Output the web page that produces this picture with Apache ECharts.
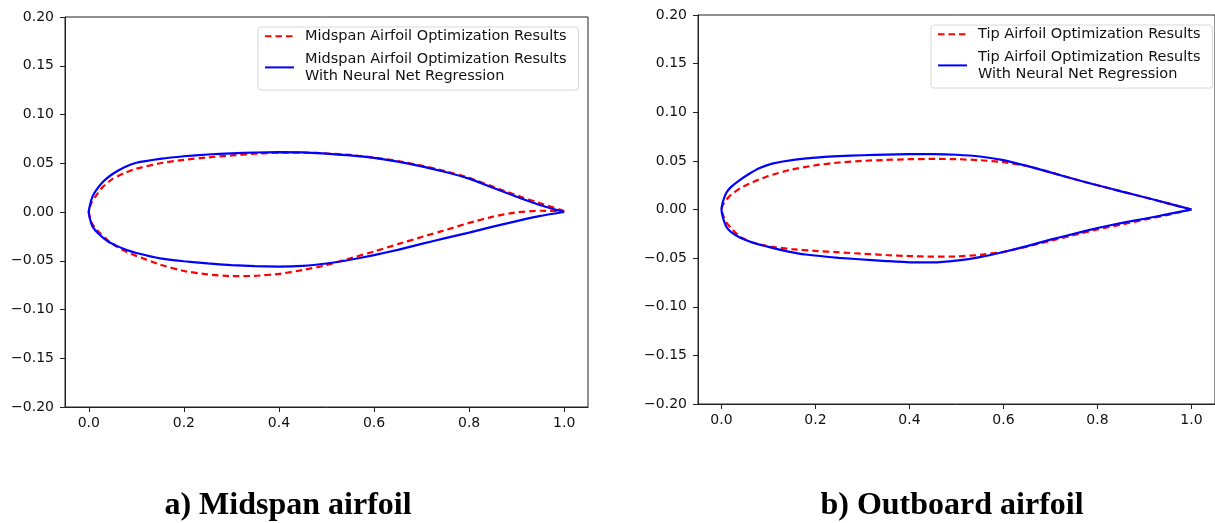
<!DOCTYPE html>
<html>
<head>
<meta charset="utf-8">
<script src="https://cdn.jsdelivr.net/npm/echarts@6/dist/echarts.min.js"></script>
<style>html,body{margin:0;padding:0;background:#fff}#c{width:1215px;height:523px}</style>
</head>
<body>
<div id="c"></div>
<script>
// ---- data (x/c, y/c) ----
const xTicks = [0, 0.2, 0.4, 0.6, 0.8, 1.0];
const names = {
  midOpt: 'Midspan Airfoil Optimization Results',
  midNN: 'Midspan Airfoil Optimization Results\nWith Neural Net Regression',
  tipOpt: 'Tip Airfoil Optimization Results',
  tipNN: 'Tip Airfoil Optimization Results\nWith Neural Net Regression'
};
const captions = ['a) Midspan airfoil', 'b) Outboard airfoil'];

const midOptUpper = [[0,0],[0.005,0.009],[0.01,0.013],[0.02,0.020],[0.03,0.026],[0.05,0.034],[0.075,0.040],[0.1,0.0445],[0.15,0.050],[0.2,0.0535],[0.25,0.056],[0.3,0.058],[0.35,0.0598],[0.4,0.0608],[0.45,0.061],[0.5,0.060],[0.55,0.0585],[0.6,0.0558],[0.65,0.0522],[0.7,0.0475],[0.75,0.0418],[0.8,0.035],[0.85,0.026],[0.9,0.017],[0.95,0.0088],[1.0,0.001]];
const midOptLower = [[0,0],[0.005,-0.010],[0.01,-0.014],[0.02,-0.020],[0.04,-0.029],[0.06,-0.036],[0.08,-0.041],[0.1,-0.045],[0.15,-0.054],[0.2,-0.0605],[0.25,-0.064],[0.3,-0.0658],[0.35,-0.0655],[0.4,-0.0635],[0.45,-0.0595],[0.5,-0.0545],[0.55,-0.0475],[0.6,-0.0405],[0.65,-0.033],[0.7,-0.0257],[0.75,-0.0185],[0.8,-0.0112],[0.85,-0.0048],[0.9,-0.0003],[0.95,0.0013],[1.0,0.001]];
const midNNUpper = [[0,0],[0.003,0.008],[0.008,0.016],[0.015,0.022],[0.03,0.031],[0.05,0.039],[0.075,0.046],[0.1,0.0505],[0.15,0.0545],[0.2,0.0572],[0.25,0.059],[0.3,0.0602],[0.35,0.061],[0.4,0.0614],[0.45,0.0612],[0.5,0.0598],[0.55,0.058],[0.6,0.0555],[0.65,0.0517],[0.7,0.0468],[0.75,0.041],[0.8,0.0342],[0.85,0.0248],[0.9,0.0157],[0.95,0.007],[1.0,0.0]];
const midNNLower = [[0,0],[0.003,-0.008],[0.008,-0.015],[0.02,-0.022],[0.04,-0.030],[0.06,-0.035],[0.08,-0.039],[0.1,-0.042],[0.15,-0.0475],[0.2,-0.0505],[0.25,-0.0527],[0.3,-0.0545],[0.35,-0.0555],[0.4,-0.056],[0.45,-0.0553],[0.5,-0.0528],[0.55,-0.049],[0.6,-0.0443],[0.65,-0.0388],[0.7,-0.0327],[0.75,-0.0268],[0.8,-0.0211],[0.85,-0.015],[0.9,-0.0093],[0.95,-0.004],[1.0,0]];

const tipOptUpper = [[0,0],[0.003,0.005],[0.01,0.0098],[0.02,0.015],[0.04,0.022],[0.073,0.0295],[0.1,0.0345],[0.144,0.0405],[0.2,0.0455],[0.25,0.0483],[0.3,0.050],[0.35,0.051],[0.4,0.0517],[0.45,0.052],[0.5,0.0518],[0.55,0.0507],[0.6,0.0487],[0.65,0.0447],[0.7,0.0382],[0.75,0.0313],[0.8,0.0249],[0.85,0.0187],[0.9,0.0126],[0.95,0.0063],[1.0,0]];
const tipOptLower = [[0,0],[0.005,-0.008],[0.01,-0.013],[0.02,-0.019],[0.038,-0.0275],[0.06,-0.033],[0.08,-0.036],[0.108,-0.0385],[0.15,-0.0408],[0.2,-0.0426],[0.25,-0.044],[0.3,-0.0455],[0.35,-0.0468],[0.4,-0.0479],[0.45,-0.0485],[0.5,-0.0483],[0.55,-0.0467],[0.6,-0.0435],[0.65,-0.0382],[0.7,-0.0322],[0.75,-0.0262],[0.8,-0.0205],[0.85,-0.0155],[0.9,-0.0105],[0.95,-0.0055],[1.0,0]];
const tipNNUpper = [[0,0],[0.003,0.008],[0.01,0.017],[0.02,0.023],[0.038,0.030],[0.06,0.037],[0.08,0.0425],[0.108,0.0472],[0.15,0.0508],[0.214,0.0538],[0.25,0.0548],[0.3,0.0558],[0.35,0.0565],[0.4,0.0569],[0.45,0.0569],[0.5,0.0563],[0.55,0.0545],[0.6,0.0508],[0.65,0.0448],[0.7,0.0382],[0.75,0.0313],[0.8,0.0249],[0.85,0.0187],[0.9,0.0126],[0.95,0.0063],[1.0,0]];
const tipNNLower = [[0,0],[0.003,-0.008],[0.01,-0.0175],[0.02,-0.023],[0.04,-0.029],[0.073,-0.035],[0.1,-0.0385],[0.14,-0.043],[0.179,-0.0463],[0.25,-0.0497],[0.32,-0.052],[0.35,-0.053],[0.4,-0.0543],[0.45,-0.0543],[0.5,-0.0525],[0.55,-0.049],[0.6,-0.0437],[0.65,-0.0376],[0.7,-0.031],[0.75,-0.025],[0.8,-0.019],[0.85,-0.014],[0.9,-0.0095],[0.95,-0.0048],[1.0,0]];

// ---- build ----
function loop(upper, lower) { return upper.slice().reverse().concat(lower.slice(1)); }
const FONT = 'DejaVu Sans';
const fmtY = v => (v < -1e-9 ? '\u2212' : '') + Math.abs(v).toFixed(2);

function xAx(i) {
  return {
    type: 'value', gridIndex: i, min: -0.05, max: 1.05,
    axisLine: { show: true, onZero: false, lineStyle: { color: '#222', width: 1 } },
    axisTick: { show: true, inside: false, length: 5, lineStyle: { color: '#222' }, customValues: xTicks },
    axisLabel: { color: '#111', fontFamily: FONT, fontSize: 14, margin: 9, customValues: xTicks, formatter: v => v.toFixed(1) },
    splitLine: { show: false }
  };
}
function yAx(i) {
  return {
    type: 'value', gridIndex: i, min: -0.2, max: 0.2, interval: 0.05,
    axisLine: { show: true, onZero: false, lineStyle: { color: '#222', width: 1 } },
    axisTick: { show: true, inside: false, length: 5, lineStyle: { color: '#222' } },
    axisLabel: { color: '#111', fontFamily: FONT, fontSize: 14, margin: 11, formatter: fmtY },
    splitLine: { show: false }
  };
}
function ser(name, data, i, color, dashed) {
  return {
    type: 'line', name, data, xAxisIndex: i, yAxisIndex: i,
    showSymbol: false, symbol: 'none', smooth: 0.15, silent: true,
    lineStyle: { color, width: 2.2, type: dashed ? [6.5, 4] : 'solid' },
    itemStyle: { color }
  };
}
function leg(data, left, top) {
  return {
    data, left, top, orient: 'vertical', itemWidth: 29, itemHeight: 14, itemGap: 6,
    padding: [1, 12, 6, 6], backgroundColor: '#fff', borderColor: '#d8d8d8', borderWidth: 1, borderRadius: 3,
    itemStyle: { opacity: 0 },
    textStyle: { fontFamily: FONT, fontSize: 14.5, color: '#111', lineHeight: 16.7, padding: [0, 0, 0, 6] },
    selectedMode: false
  };
}

const chart = echarts.init(document.getElementById('c'), null, { renderer: 'canvas' });
chart.setOption({
  animation: false,
  backgroundColor: '#fff',
  grid: [
    { left: 65, right: 627, top: 17, bottom: 116, show: true, borderColor: '#222', borderWidth: 1, backgroundColor: 'transparent' },
    { left: 698, right: -4, top: 15, bottom: 119, show: true, borderColor: '#222', borderWidth: 1, backgroundColor: 'transparent' }
  ],
  xAxis: [xAx(0), xAx(1)],
  yAxis: [yAx(0), yAx(1)],
  legend: [leg([names.midOpt, names.midNN], 258, 27), leg([names.tipOpt, names.tipNN], 931, 25)],
  series: [
    ser(names.midOpt, loop(midOptUpper, midOptLower), 0, '#ff0000', true),
    ser(names.midNN, loop(midNNUpper, midNNLower), 0, '#0000ff', false),
    ser(names.tipOpt, loop(tipOptUpper, tipOptLower), 1, '#ff0000', true),
    ser(names.tipNN, loop(tipNNUpper, tipNNLower), 1, '#0000ff', false)
  ],
  graphic: [
    { type: 'text', x: 288, y: 506, style: { text: captions[0], font: 'bold 32px "Liberation Serif"', fill: '#000', textAlign: 'center', textVerticalAlign: 'middle' } },
    { type: 'text', x: 952, y: 506, style: { text: captions[1], font: 'bold 32px "Liberation Serif"', fill: '#000', textAlign: 'center', textVerticalAlign: 'middle' } }
  ]
});
</script>
</body>
</html>
